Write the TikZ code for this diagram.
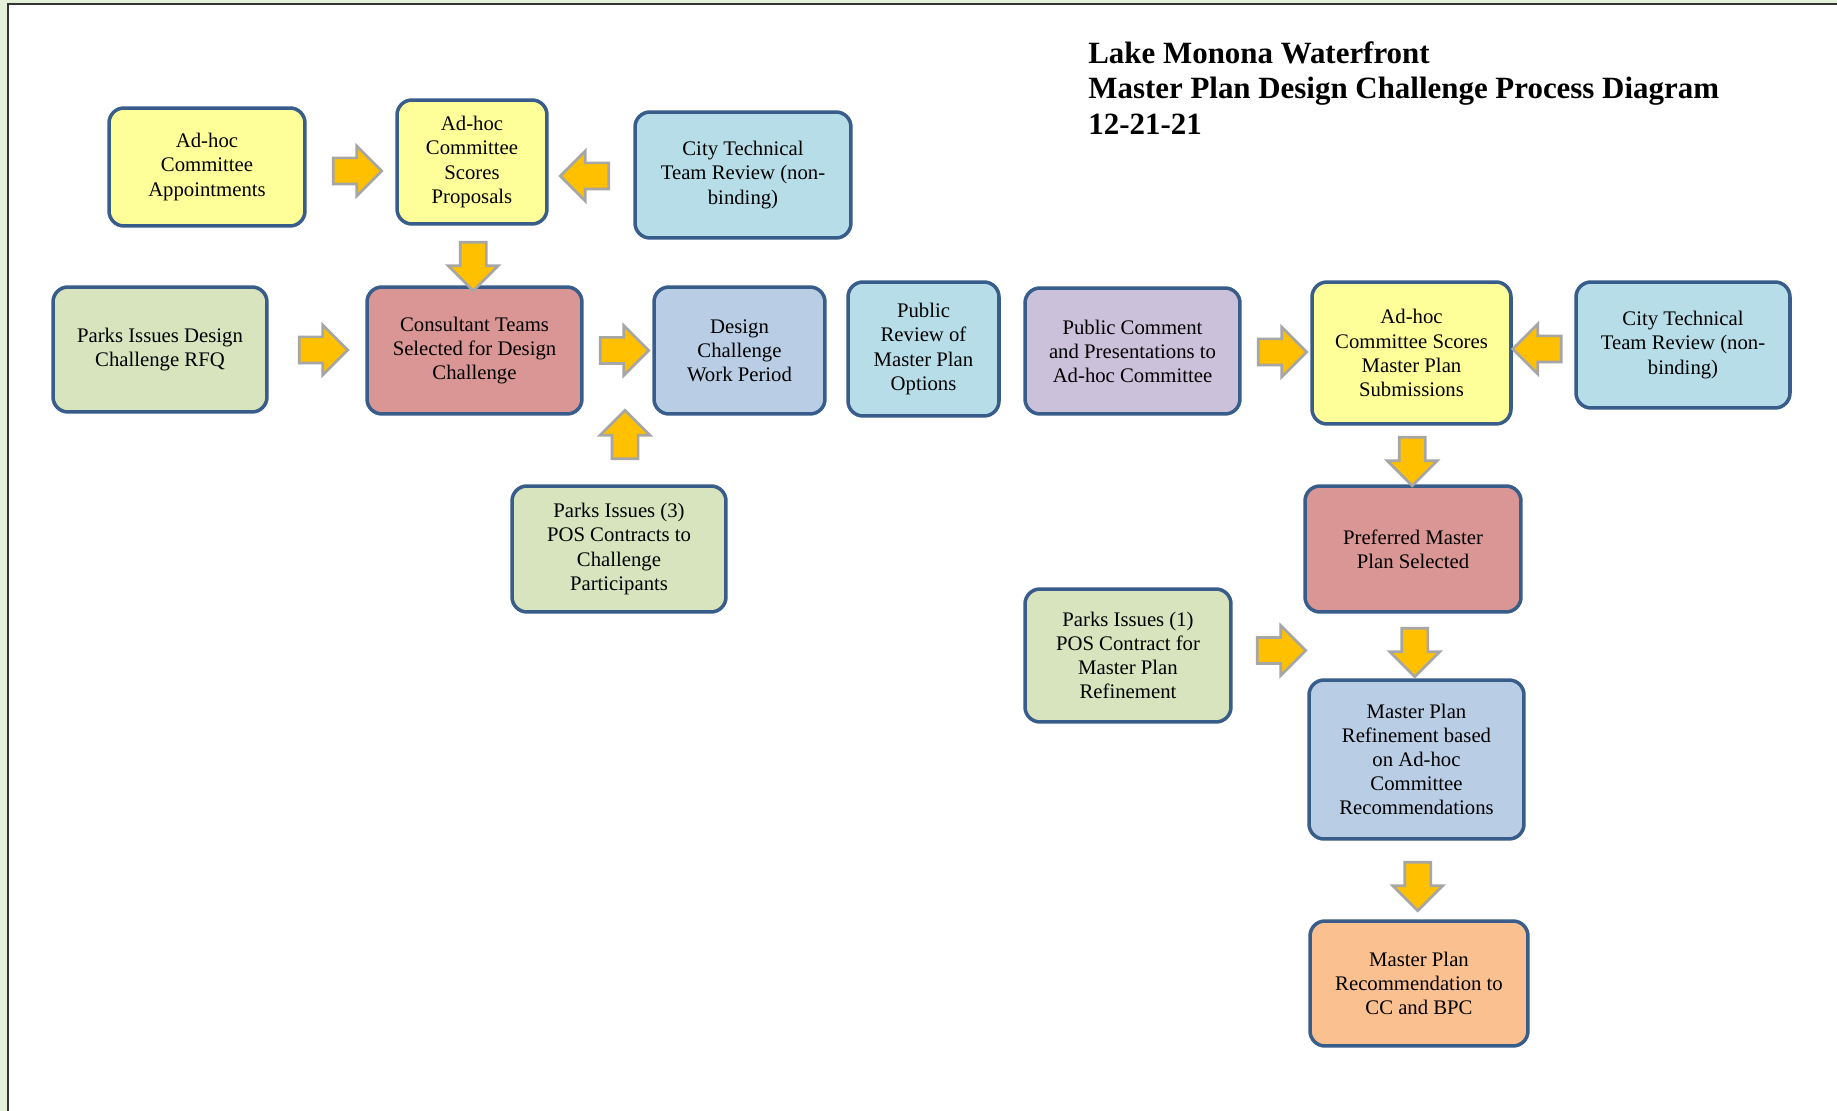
\documentclass[tikz,border=0pt]{standalone}
\usepackage{fontspec}
\setmainfont{Liberation Serif}
\usetikzlibrary{shapes.arrows, calc}

\definecolor{boxline}{HTML}{385D8A}
\definecolor{fillyellow}{HTML}{FFFF99}
\definecolor{fillaqua}{HTML}{B7DEE8}
\definecolor{fillgreen}{HTML}{D7E4BD}
\definecolor{fillred}{HTML}{D99694}
\definecolor{fillblue}{HTML}{B9CDE5}
\definecolor{fillpurple}{HTML}{CCC1DA}
\definecolor{fillorange}{HTML}{FAC090}
\definecolor{arrowfill}{HTML}{FFC000}
\definecolor{arrowline}{HTML}{A6A6A6}
\definecolor{pagegreen}{HTML}{E5F0DA}

\begin{document}
\begin{tikzpicture}[
    x=0.02cm, y=-0.02cm,
    box/.style={rectangle, draw=boxline, line width=2pt, rounded corners=0.3cm, align=center, inner sep=2pt, font=\fontsize{11.8}{13.7}\selectfont},
    flow/.style={single arrow, draw=arrowline, fill=arrowfill, line width=1.5pt, minimum width=0.95cm, minimum height=0.97cm, single arrow head extend=0.24cm, inner sep=0.235cm}
]

% Page frame
\useasboundingbox (0,0) rectangle (1837,1111);
\fill[pagegreen] (0,0) rectangle (1837,1111);
\fill[white] (8,4) rectangle (1837,1111);
\draw[black!80, line width=1pt] (8,1111) -- (8,4) -- (1837,4);

% Title
\node[anchor=north west, align=left, inner sep=0pt, font=\fontsize{17.6}{20.3}\selectfont\bfseries] (title) at (1088,41) {Lake Monona Waterfront\\Master Plan Design Challenge Process Diagram\\12-21-21};

% Nodes using absolute positioning (pixel grid of the page)
\node[box, fill=fillyellow, minimum width=3.92cm, minimum height=2.36cm] (appoint) at (207,167) {Ad-hoc\\Committee\\Appointments};
\node[box, fill=fillyellow, minimum width=3.0cm, minimum height=2.48cm] (scores) at (472,162) {Ad-hoc\\Committee\\Scores\\Proposals};
\node[box, fill=fillaqua, minimum width=4.32cm, minimum height=2.52cm] (citytop) at (743,175) {City Technical\\Team Review (non-\\binding)};
\node[box, fill=fillgreen, minimum width=4.28cm, minimum height=2.5cm] (rfq) at (160,349.5) {Parks Issues Design\\Challenge RFQ};
\node[box, fill=fillred, minimum width=4.3cm, minimum height=2.54cm] (teams) at (474.5,350.5) {Consultant Teams\\Selected for Design\\Challenge};
\node[box, fill=fillblue, minimum width=3.42cm, minimum height=2.54cm] (work) at (739.5,350.5) {Design\\Challenge\\Work Period};
\node[box, fill=fillaqua, minimum width=3.02cm, minimum height=2.68cm] (review) at (923.5,349) {Public\\Review of\\Master Plan\\Options};
\node[box, fill=fillpurple, minimum width=4.3cm, minimum height=2.52cm] (comment) at (1132.5,351) {Public Comment\\and Presentations to\\Ad-hoc Committee};
\node[box, fill=fillyellow, minimum width=3.98cm, minimum height=2.84cm] (submit) at (1411.5,353) {Ad-hoc\\Committee Scores\\Master Plan\\Submissions};
\node[box, fill=fillaqua, minimum width=4.28cm, minimum height=2.52cm] (cityright) at (1683,345) {City Technical\\Team Review (non-\\binding)};
\node[box, fill=fillgreen, minimum width=4.28cm, minimum height=2.52cm] (posthree) at (619,549) {Parks Issues (3)\\POS Contracts to\\Challenge\\Participants};
\node[box, fill=fillred, minimum width=4.32cm, minimum height=2.52cm] (preferred) at (1413,549) {Preferred Master\\Plan Selected};
\node[box, fill=fillgreen, minimum width=4.12cm, minimum height=2.66cm] (posone) at (1128,655.5) {Parks Issues (1)\\POS Contract for\\Master Plan\\Refinement};
\node[box, fill=fillblue, minimum width=4.3cm, minimum height=3.18cm] (refine) at (1416.5,759.5) {Master Plan\\Refinement based\\on Ad-hoc\\Committee\\Recommendations};
\node[box, fill=fillorange, minimum width=4.36cm, minimum height=2.5cm] (recommend) at (1419,983.5) {Master Plan\\Recommendation to\\CC and BPC};

% Arrows
\node[flow, yshift=-0.13cm] (a1) at ($(appoint.east)!0.5!(scores.west)$) {};
\node[flow, shape border rotate=180, yshift=-0.15cm] (a2) at ($(scores.east)!0.5!(citytop.west)$) {};
\node[flow, shape border rotate=270, yshift=-0.09cm] (a3) at ($(scores.south)!0.5!(teams.north)$) {};
\node[flow] (a4) at ($(rfq.east)!0.5!(teams.west)$) {};
\node[flow] (a5) at ($(teams.east)!0.5!(work.west)$) {};
\node[flow, shape border rotate=90, xshift=0.12cm, yshift=0.18cm] (a6) at ($(posthree.north)!0.5!(posthree.north |- work.south)$) {};
\node[flow] (a7) at ($(comment.east)!0.5!(submit.west)$) {};
\node[flow, shape border rotate=180] (a8) at ($(submit.east)!0.5!(cityright.west)$) {};
\node[flow, shape border rotate=270] (a9) at ($(submit.south)!0.5!(preferred.north)$) {};
\node[flow, shape border rotate=270] (a10) at ($(preferred.south)!0.5!(refine.north)$) {};
\node[flow, xshift=0.1cm, yshift=0.1cm] (a11) at ($(posone.east)!0.5!(posone.east -| refine.west)$) {};
\node[flow, shape border rotate=270] (a12) at ($(refine.south)!0.5!(recommend.north)$) {};

\end{tikzpicture}
\end{document}
